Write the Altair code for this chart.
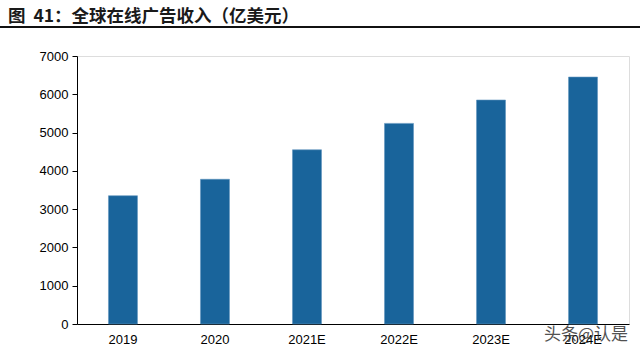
import altair as alt
import pandas as pd

years = ["2019", "2020", "2021E", "2022E", "2023E", "2024E"]
revenue = [3350, 3780, 4550, 5240, 5850, 6450]
title_text = ["图\u00a0\u00a041：全球在线广告收入（亿美元）"]
watermark = ["头条@认是"]

df = pd.DataFrame({"year": years, "revenue": revenue})
FONT = "Liberation Sans"

bars = alt.Chart(df).mark_bar(color="#19649b", stroke="#5f93bd", strokeWidth=0.6).encode(
    x=alt.X("year:N", sort=years,
            scale=alt.Scale(paddingInner=0.685, paddingOuter=0.342),
            axis=alt.Axis(title=None, labelAngle=0, ticks=False, domainColor="#000000",
                          domainWidth=1.2, labelFont=FONT, labelFontSize=13,
                          labelColor="#000000", labelPadding=9)),
    y=alt.Y("revenue:Q", scale=alt.Scale(domain=[0, 7000]),
            axis=alt.Axis(title=None, values=list(range(0, 7001, 1000)), grid=False,
                          format="d", tickSize=5, tickColor="#000000", domainColor="#000000",
                          labelFont=FONT, labelFontSize=13, labelColor="#000000",
                          labelPadding=4)),
)

title = alt.Chart(pd.DataFrame({"t": title_text})).mark_text(
    align="left", baseline="alphabetic", font="Noto Sans CJK SC", fontSize=17.5,
    fontWeight="bold", color="#1a1a1a"
).encode(text="t:N", x=alt.value(-69), y=alt.value(-34))

rule = alt.Chart(pd.DataFrame({"a": [1]})).mark_rule(color="#111111", strokeWidth=2).encode(
    x=alt.value(-77), x2=alt.value(563), y=alt.value(-29)
)

wm = alt.Chart(pd.DataFrame({"w": watermark})).mark_text(
    align="left", baseline="middle", font="Noto Sans CJK SC", fontSize=17,
    color="#333333", opacity=0.85
).encode(text="w:N", x=alt.value(467), y=alt.value(11 + 268))

chart = alt.layer(bars, title, rule, wm).properties(
    width=552, height=268,
    autosize=alt.AutoSizeParams(type="none"),
    padding={"left": 77, "top": 56, "right": 11, "bottom": 31},
).configure_view(stroke=None).configure(background="white")

chart.save("out.html", embed_options={"renderer": "svg", "actions": False})
